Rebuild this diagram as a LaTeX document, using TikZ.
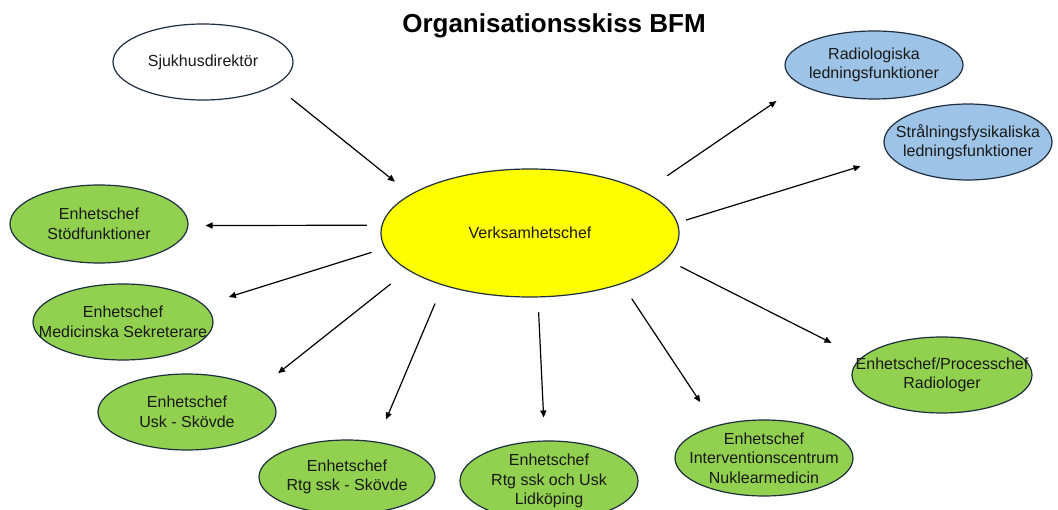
\documentclass[tikz,border=0pt]{standalone}
\usepackage{fontspec}
\setmainfont{Liberation Sans}
\usetikzlibrary{arrows.meta,shapes.geometric}

\definecolor{kant}{HTML}{1E2E40}
\definecolor{gron}{HTML}{92D050}
\definecolor{bla}{HTML}{9DC3E6}
\definecolor{gul}{HTML}{FFFF00}

\begin{document}
\begin{tikzpicture}[
    x=1pt, y=-1pt,
    line cap=round,
    blob/.style={ellipse, draw=kant, line width=1.2pt,
        inner xsep=-40pt, inner ysep=0pt, align=center,
        font=\fontsize{16}{19.5}\selectfont, text=black!90,
        minimum width=178pt, minimum height=76pt},
    chef/.style={blob, fill=gron},
    ledn/.style={blob, fill=bla},
    pil/.style={line width=1.2pt, -{Triangle[length=7pt,width=6pt]}}
]

\path[use as bounding box, fill=white] (0,0) rectangle (1058,510);

% -------------------------------------------------
% Rubrik
% -------------------------------------------------
\node[font=\bfseries\fontsize{26}{30}\selectfont, anchor=base] (titel) at (554,33) {Organisationsskiss BFM};

% -------------------------------------------------
% Ledning
% -------------------------------------------------
\node[blob, fill=white, minimum width=180pt] (sjuk) at (203,62) {Sjukhusdirektör};
\node[blob, fill=gul, minimum width=298pt, minimum height=128pt] (verk) at (530,233) {Verksamhetschef};

% Ledningsfunktioner (blå)
\node[ledn, minimum height=68pt] (radio) at (874,65) {Radiologiska\\ledningsfunktioner};
\node[ledn, minimum width=168pt] (stral) at (968,142) {Strålningsfysikaliska\\ledningsfunktioner};

% -------------------------------------------------
% Enhetschefer (gröna)
% -------------------------------------------------
\node[chef, minimum height=78pt] (stod) at (99,224) {Enhetschef\\Stödfunktioner};
\node[chef, minimum width=180pt] (medsek) at (123,322) {Enhetschef\\Medicinska Sekreterare};
\node[chef] (usk) at (187,412) {Enhetschef\\Usk - Skövde};
\node[chef, minimum width=176pt, minimum height=74pt] (rtgsk) at (347,477) {Enhetschef\\Rtg ssk - Skövde};
\node[chef, minimum height=80pt] (lidk) at (549,481) {Enhetschef\\Rtg ssk och Usk\\Lidköping};
\node[chef] (interv) at (764,458) {Enhetschef\\Interventionscentrum\\Nuklearmedicin};
\node[chef, minimum width=180pt] (proc) at (942,375) {Enhetschef/Processchef\\Radiologer};

% -------------------------------------------------
% Pilar
% -------------------------------------------------
\draw[pil, shorten <=21pt, shorten >=20pt] (sjuk.-18.7) -- (verk.162.1);

\draw[pil, shorten <=15pt, shorten >=17pt] (verk.177.3) -- (stod.-1.3);
\draw[pil, shorten <=14pt, shorten >=26pt] (verk.-174.1) -- (medsek.12.2);
\draw[pil, shorten <=22pt, shorten >=25pt] (verk.-163.5) -- (usk.18.3);
\draw[pil, shorten <=20pt, shorten >=24pt] (verk.-149.7) -- (rtgsk.50.5);
\draw[pil, shorten <=15pt, shorten >=23pt] (verk.-83.7) -- (lidk.96.4);
\draw[pil, shorten <=18pt, shorten >=28pt] (verk.-29.2) -- (interv.146);
\draw[pil, shorten <=16pt, shorten >=33pt] (verk.-11.1) -- (proc.168.9);

\draw[pil, shorten <=28pt, shorten >=29pt] (verk.20.7) -- (radio.-165.7);
\draw[pil, shorten <=9pt, shorten >=31pt] (verk.4.8) -- (stral.-169.9);

\end{tikzpicture}
\end{document}
